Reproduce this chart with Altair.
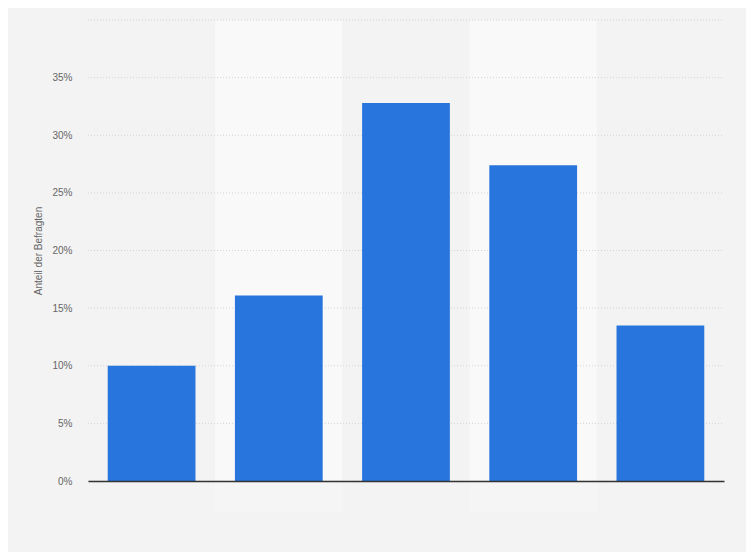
import altair as alt
import pandas as pd

categories = ["1", "2", "3", "4", "5"]
values = [10.0, 16.1, 32.8, 27.4, 13.5]
band_fill = ["#f3f3f3", "#f9f9f9", "#f3f3f3", "#f9f9f9", "#f3f3f3"]
band_fill_low = ["#f3f3f3", "#f5f5f5", "#f3f3f3", "#f5f5f5", "#f3f3f3"]
y_ticks = [0, 5, 10, 15, 20, 25, 30, 35, 40]

df = pd.DataFrame({"cat": categories, "value": values, "fill": band_fill,
                   "fill_low": band_fill_low})
grid_df = pd.DataFrame({"tick": y_ticks})

y_scale = alt.Scale(domain=[0, 40], nice=False)
y_axis = alt.Axis(title="Anteil der Befragten", values=y_ticks,
                  labelExpr="datum.value >= 40 ? '' : datum.value + '%'",
                  domain=False, ticks=False, labelPadding=16,
                  labelColor="#666666", labelFontSize=10,
                  labelFont="Liberation Sans",
                  titleFont="Liberation Sans", titleFontSize=10,
                  titleFontWeight="normal", titleColor="#666666",
                  titlePadding=8, grid=False)

band_x = alt.X("cat:N", sort=categories, axis=None,
               scale=alt.Scale(paddingInner=0, paddingOuter=0))

bands = alt.Chart(df).mark_rect().encode(
    x=band_x,
    y=alt.value(0),
    y2=alt.value(461),
    color=alt.Color("fill:N", scale=None, legend=None),
)

bands_low = alt.Chart(df).mark_rect().encode(
    x=band_x,
    y=alt.value(461),
    y2=alt.value(492),
    color=alt.Color("fill_low:N", scale=None, legend=None),
)

grid = alt.Chart(grid_df).mark_rule(color="#d4d4d4", strokeDash=[1, 2],
                                    strokeWidth=1).encode(
    y=alt.Y("tick:Q", scale=y_scale, axis=y_axis),
    x=alt.value(0),
    x2=alt.value(636),
)

bars = alt.Chart(df).mark_bar(color="#2876dd").encode(
    x=alt.X("cat:N", sort=categories,
            scale=alt.Scale(paddingInner=0.31, paddingOuter=0.155),
            axis=alt.Axis(title=None, labels=False, ticks=False, zindex=1,
                          domainColor="#333333", domainWidth=1.5, grid=False)),
    y=alt.Y("value:Q", scale=y_scale, axis=y_axis),
)

chart = alt.layer(bands, bands_low, grid, bars).resolve_scale(
    x="independent").properties(
    width=636,
    height=461,
    background="#f3f3f3",
    padding={"left": 80, "top": 12, "right": 22, "bottom": 71},
    autosize=alt.AutoSizeParams(type="none"),
).configure_view(stroke=None)

chart.save("out.html", embed_options={"renderer": "svg", "actions": False})
